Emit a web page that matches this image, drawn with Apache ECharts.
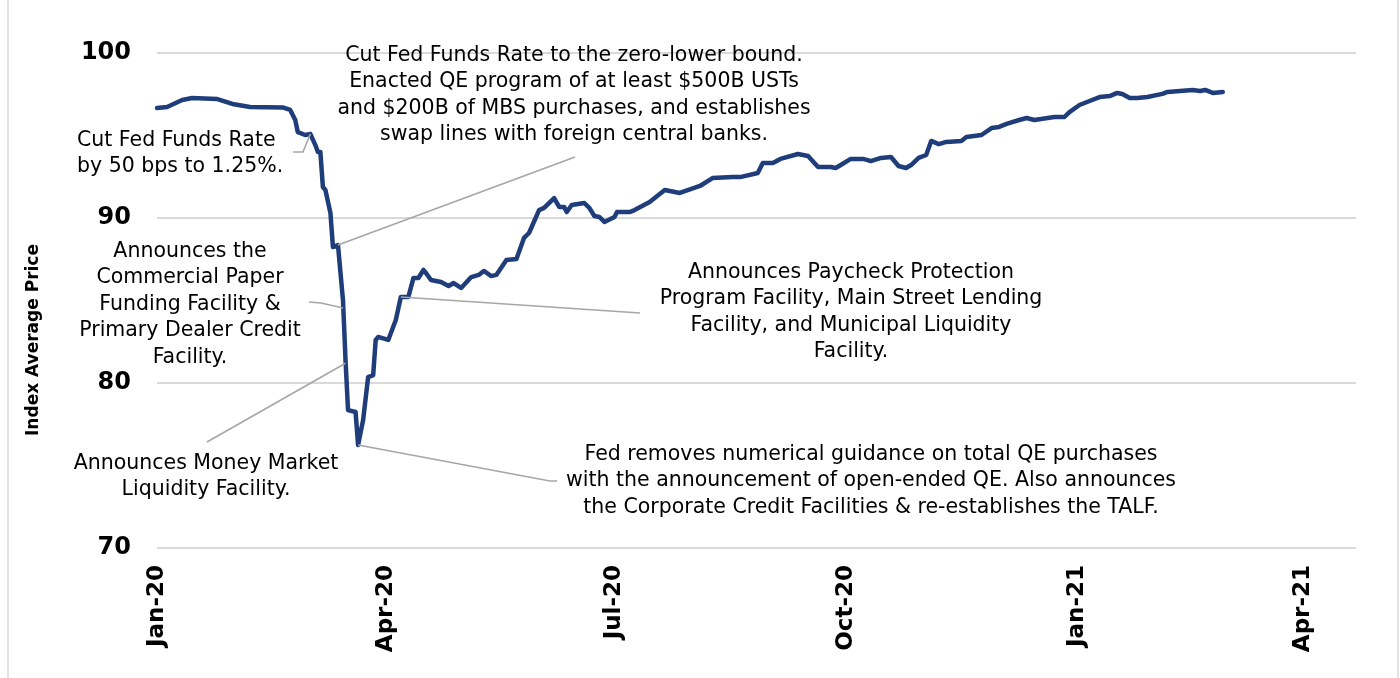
<!DOCTYPE html>
<html>
<head>
<meta charset="utf-8">
<script src="https://cdn.jsdelivr.net/npm/echarts@6/dist/echarts.min.js"></script>
<style>
  html, body { margin: 0; padding: 0; background: #fff; }
  #chart { width: 1400px; height: 678px; }
</style>
</head>
<body>
<div id="chart"></div>
<script>
// ---------------- DATA ----------------
const dates = [
  '2020-01-01','2020-01-05','2020-01-11','2020-01-15','2020-01-25','2020-01-31','2020-02-07','2020-02-20',
  '2020-02-23','2020-02-25','2020-02-26','2020-02-29','2020-03-02','2020-03-04','2020-03-05','2020-03-06',
  '2020-03-07','2020-03-08','2020-03-10','2020-03-11','2020-03-13','2020-03-15','2020-03-16','2020-03-17',
  '2020-03-20','2020-03-21','2020-03-23','2020-03-25','2020-03-27','2020-03-28','2020-03-29','2020-04-02',
  '2020-04-05','2020-04-07','2020-04-10','2020-04-12','2020-04-14','2020-04-16','2020-04-17','2020-04-19',
  '2020-04-23','2020-04-26','2020-04-28','2020-05-01','2020-05-05','2020-05-08','2020-05-10','2020-05-13',
  '2020-05-15','2020-05-19','2020-05-23','2020-05-26','2020-05-28','2020-06-01','2020-06-03','2020-06-07',
  '2020-06-09','2020-06-11','2020-06-12','2020-06-14','2020-06-19','2020-06-21','2020-06-23','2020-06-25',
  '2020-06-27','2020-07-01','2020-07-02','2020-07-07','2020-07-09','2020-07-15','2020-07-21','2020-07-27',
  '2020-08-04','2020-08-09','2020-08-17','2020-08-20','2020-08-27','2020-08-29','2020-09-02','2020-09-05',
  '2020-09-12','2020-09-16','2020-09-20','2020-09-25','2020-09-27','2020-09-29','2020-10-03','2020-10-08',
  '2020-10-11','2020-10-15','2020-10-19','2020-10-22','2020-10-25','2020-10-27','2020-10-30','2020-11-02',
  '2020-11-04','2020-11-07','2020-11-10','2020-11-16','2020-11-18','2020-11-24','2020-11-28','2020-12-01',
  '2020-12-04','2020-12-09','2020-12-12','2020-12-15','2020-12-23','2020-12-27','2020-12-29','2021-01-02',
  '2021-01-05','2021-01-10','2021-01-14','2021-01-17','2021-01-19','2021-01-22','2021-01-25','2021-01-29',
  '2021-02-04','2021-02-06','2021-02-11','2021-02-16','2021-02-19','2021-02-21','2021-02-24','2021-02-28'
];
const values = [
  96.67, 96.73, 97.15, 97.27, 97.21, 96.91, 96.73, 96.70,
  96.55, 95.94, 95.21, 95.03, 95.09, 94.42, 94.00, 94.00,
  91.88, 91.70, 90.30, 88.24, 88.36, 85.00, 81.39, 78.36,
  78.24, 76.24, 77.76, 80.36, 80.48, 82.61, 82.79, 82.61,
  83.82, 85.21, 85.21, 86.36, 86.36, 86.85, 86.67, 86.24,
  86.12, 85.88, 86.06, 85.76, 86.42, 86.55, 86.79, 86.48,
  86.55, 87.45, 87.52, 88.79, 89.09, 90.48, 90.61, 91.21,
  90.67, 90.67, 90.36, 90.79, 90.91, 90.61, 90.12, 90.06,
  89.76, 90.06, 90.36, 90.36, 90.48, 90.97, 91.70, 91.52,
  91.94, 92.42, 92.48, 92.48, 92.73, 93.33, 93.33, 93.58,
  93.88, 93.76, 93.09, 93.09, 93.03, 93.21, 93.58, 93.58,
  93.45, 93.64, 93.70, 93.15, 93.03, 93.21, 93.64, 93.82,
  94.67, 94.48, 94.61, 94.67, 94.91, 95.03, 95.45, 95.52,
  95.70, 95.94, 96.06, 95.94, 96.12, 96.12, 96.42, 96.85,
  97.03, 97.33, 97.39, 97.58, 97.52, 97.27, 97.27, 97.33,
  97.52, 97.64, 97.70, 97.76, 97.70, 97.76, 97.58, 97.64
];
const tickDates = ['2020-01-01','2020-04-01','2020-07-01','2020-10-01','2021-01-01','2021-04-01'];
const tickLabels = ['Jan-20','Apr-20','Jul-20','Oct-20','Jan-21','Apr-21'];
const axisStart = '2020-01-01';
const axisEnd = '2021-04-22';
const yTitle = 'Index Average Price';

const noteTexts = [
  'Cut Fed Funds Rate\nby 50 bps to 1.25%.',
  'Cut Fed Funds Rate to the zero-lower bound.\nEnacted QE program of at least $500B USTs\nand $200B of MBS purchases, and establishes\nswap lines with foreign central banks.',
  'Announces the\nCommercial Paper\nFunding Facility &\nPrimary Dealer Credit\nFacility.',
  'Announces Money Market\nLiquidity Facility.',
  'Announces Paycheck Protection\nProgram Facility, Main Street Lending\nFacility, and Municipal Liquidity\nFacility.',
  'Fed removes numerical guidance on total QE purchases\nwith the announcement of open-ended QE. Also announces\nthe Corporate Credit Facilities & re-establishes the TALF.'
];
// points on the line each note refers to (date, value)
const noteAnchorDates = ['2020-03-02','2020-03-13','2020-03-15','2020-03-16','2020-04-07','2020-03-21'];
const noteAnchorValues = [95.09, 88.36, 84.55, 81.2, 85.21, 76.24];

// ---------------- LAYOUT (pixels) ----------------
const noteLayout = [
  { x: 77,  y: 127, align: 'left'   },
  { x: 574, y: 42,  align: 'center' },
  { x: 190, y: 238, align: 'center' },
  { x: 206, y: 450, align: 'center' },
  { x: 851, y: 259, align: 'center' },
  { x: 871, y: 441, align: 'center' }
];
const leaderRest = [
  [[303, 152], [293, 152]],
  [[575, 157]],
  [[321, 303], [309, 302]],
  [[207, 442]],
  [[640, 313]],
  [[550, 481], [557, 481]]
];

function ts(s) {
  const p = s.split('-').map(Number);
  return Date.UTC(p[0], p[1] - 1, p[2]);
}
const tickTs = tickDates.map(ts);
const FONT = '"DejaVu Sans", Verdana, sans-serif';

const chart = echarts.init(document.getElementById('chart'), null, { renderer: 'canvas' });

chart.setOption({
  animation: false,
  backgroundColor: '#ffffff',
  grid: { left: 157, right: 44, top: 53, bottom: 130 },
  xAxis: {
    type: 'value',
    min: ts(axisStart),
    max: ts(axisEnd),
    axisLine: { show: false },
    axisTick: { show: false },
    splitLine: { show: false },
    axisLabel: {
      customValues: tickTs,
      rotate: 90,
      margin: 17,
      fontFamily: FONT,
      fontWeight: 'bold',
      fontSize: 23,
      color: '#000',
      formatter: function (v) {
        for (let i = 0; i < tickTs.length; i++) {
          if (Math.abs(tickTs[i] - v) < 43200000) return tickLabels[i];
        }
        return '';
      }
    }
  },
  yAxis: {
    type: 'value',
    min: 70, max: 100, interval: 10,
    axisLine: { show: false },
    axisTick: { show: false },
    splitLine: { show: true, lineStyle: { color: '#d9d9d9', width: 2 } },
    axisLabel: {
      margin: 26,
      fontFamily: FONT,
      fontWeight: 'bold',
      fontSize: 24,
      color: '#000'
    }
  },
  series: [{
    type: 'line',
    data: dates.map((d, i) => [ts(d), values[i]]),
    showSymbol: false,
    smooth: false,
    z: 3,
    lineStyle: { color: '#1f3d7a', width: 4.5, cap: 'round', join: 'round' }
  }]
});

// annotations
const graphics = [];
graphics.push({ type: 'line', shape: { x1: 8, y1: 0, x2: 8, y2: 678 }, style: { stroke: '#d9d9d9', lineWidth: 1.5 }, silent: true });
graphics.push({ type: 'line', shape: { x1: 1398, y1: 0, x2: 1398, y2: 678 }, style: { stroke: '#d9d9d9', lineWidth: 1.5 }, silent: true });
graphics.push({
  type: 'text', x: 34, y: 340, rotation: Math.PI / 2,
  style: { text: yTitle, font: 'bold 17px ' + FONT, fill: '#000', align: 'center', verticalAlign: 'middle' }
});
noteTexts.forEach((t, i) => {
  const L = noteLayout[i];
  graphics.push({
    type: 'text', x: L.x, y: L.y, z: 10,
    style: { text: t, font: '20.5px ' + FONT, fill: '#000', align: L.align, verticalAlign: 'top', lineHeight: 26.5 }
  });
  const a = chart.convertToPixel({ gridIndex: 0 }, [ts(noteAnchorDates[i]), noteAnchorValues[i]]);
  const pts = [a].concat(leaderRest[i]);
  graphics.push({
    type: 'polyline', z: 5, silent: true,
    shape: { points: pts },
    style: { stroke: '#a6a6a6', lineWidth: 1.6, fill: null }
  });
});
chart.setOption({ graphic: graphics });
</script>
</body>
</html>
